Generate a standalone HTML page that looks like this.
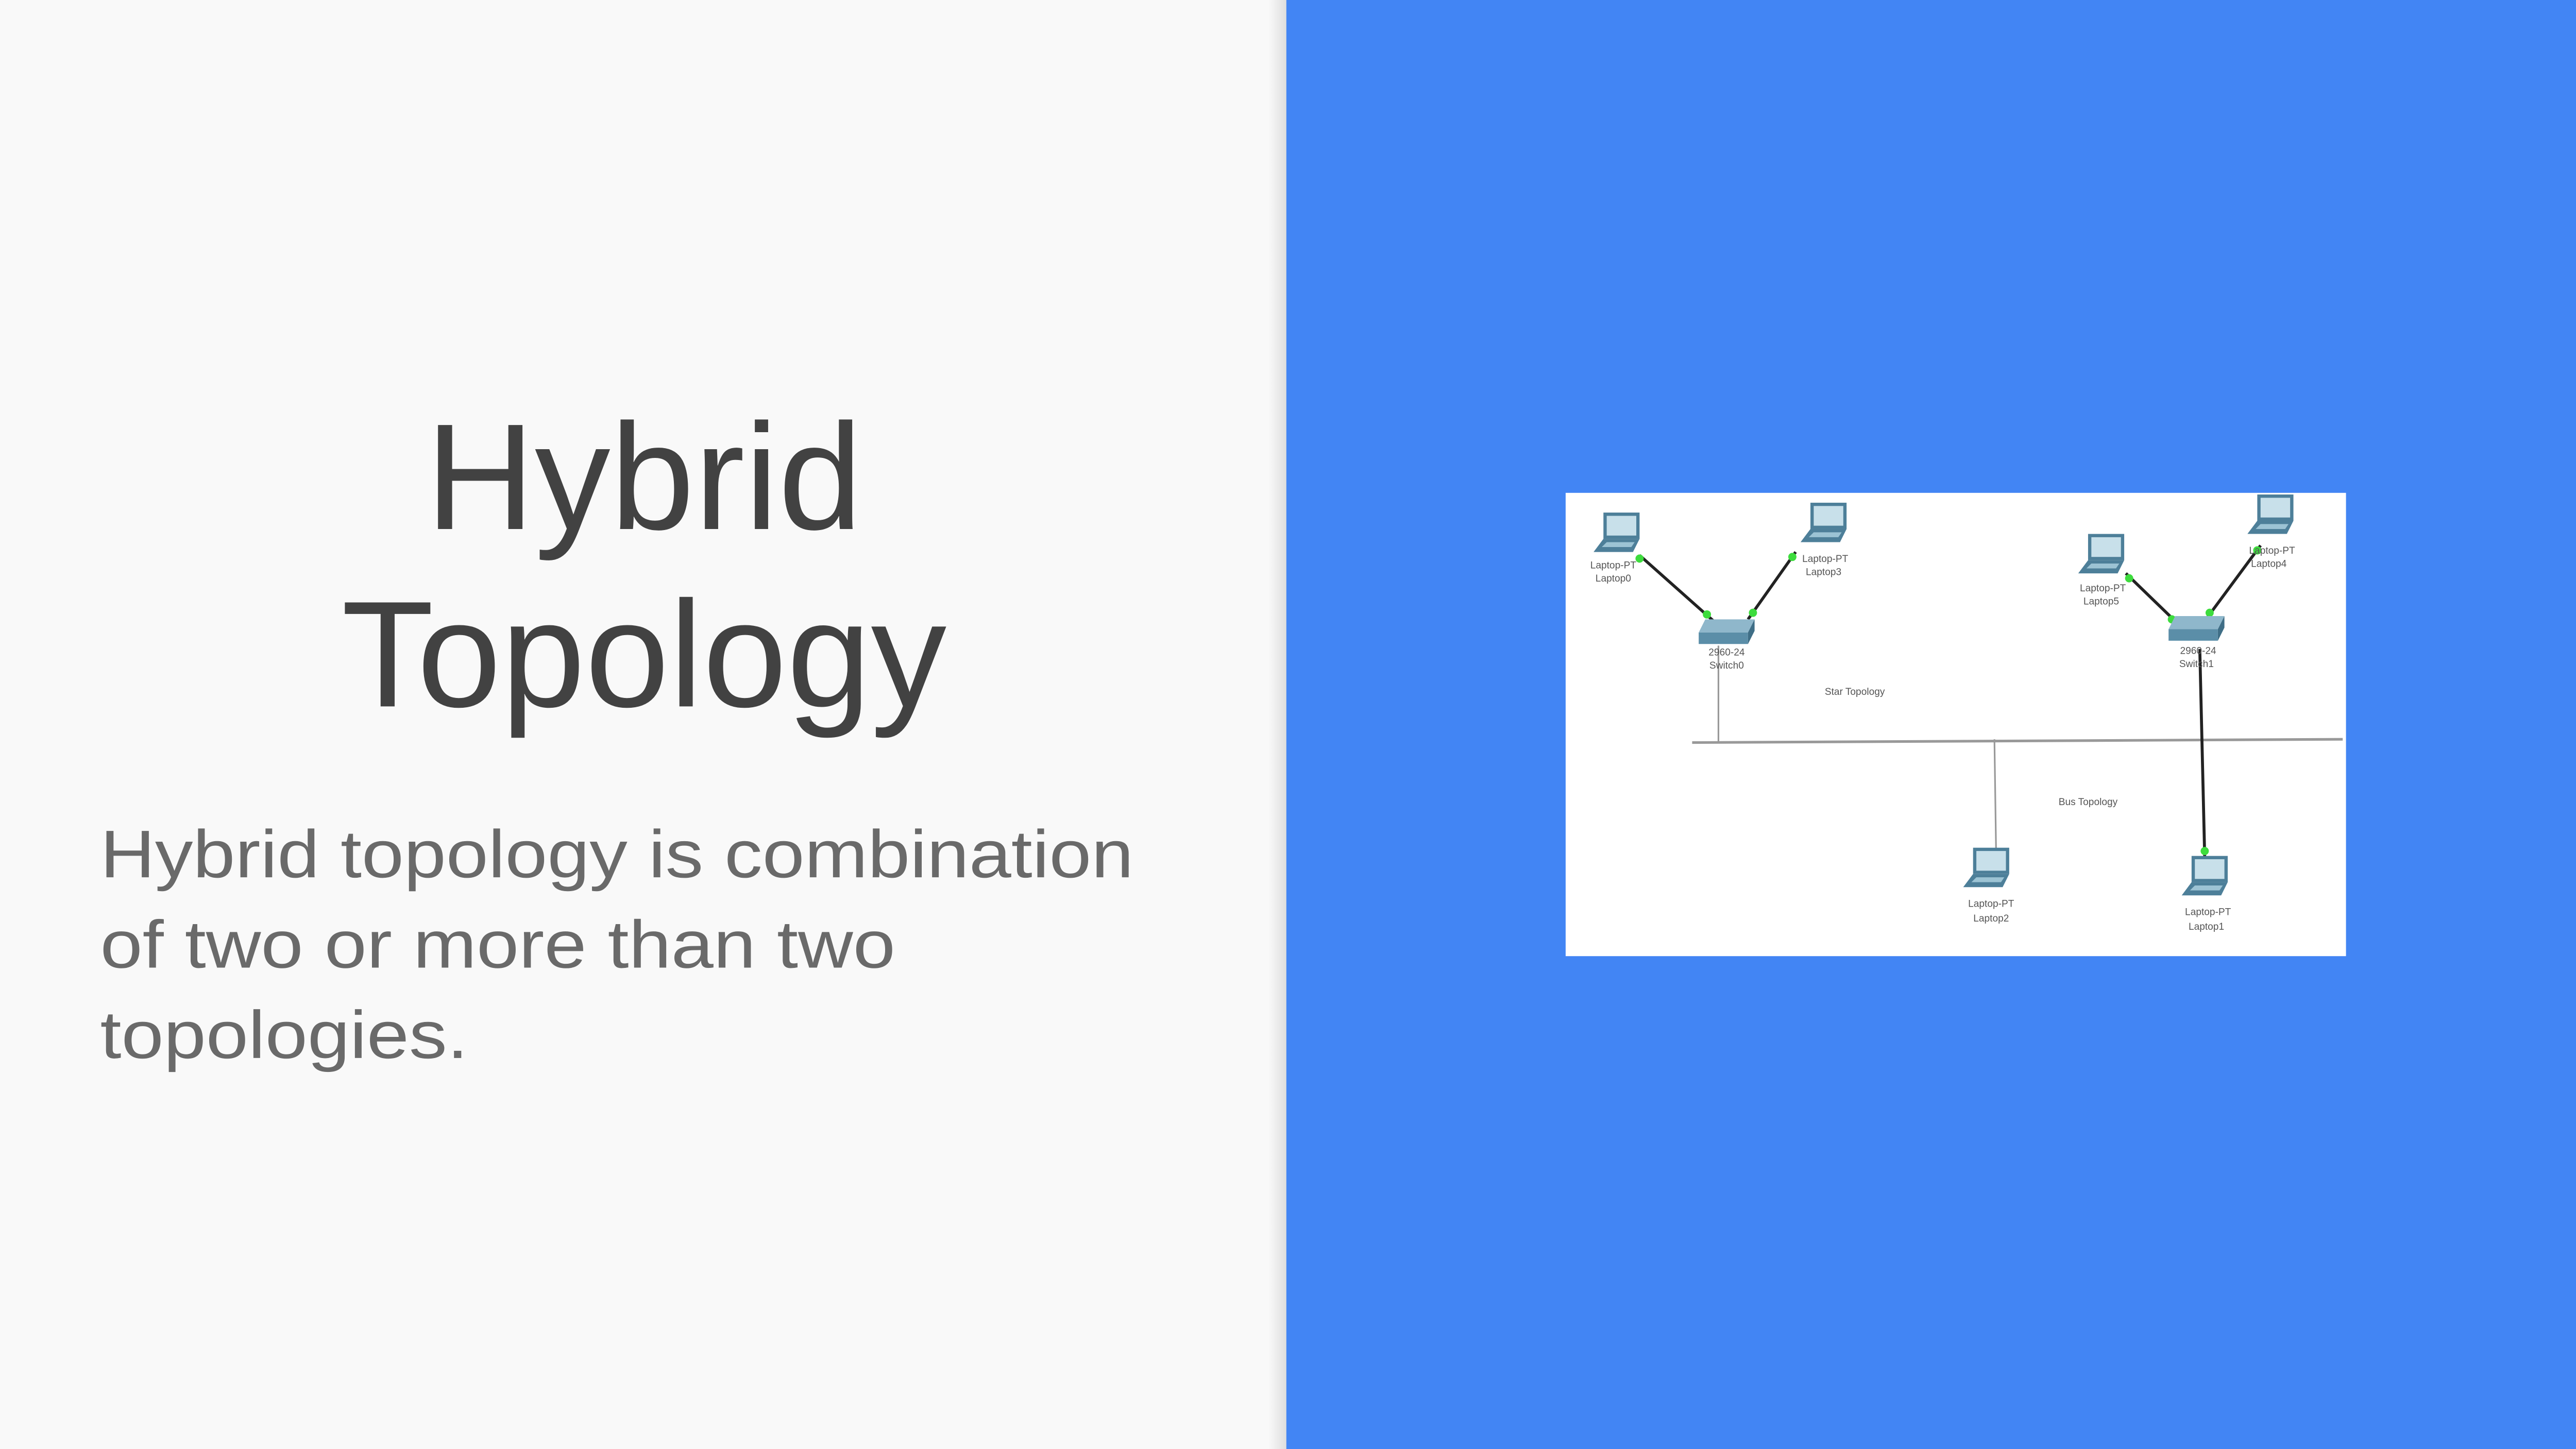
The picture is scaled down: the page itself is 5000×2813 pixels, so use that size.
<!DOCTYPE html>
<html><head><meta charset="utf-8"><style>
html,body{margin:0;padding:0;width:5000px;height:2813px;overflow:hidden;background:#f9f9f9}
svg{display:block}
</style></head><body>
<svg width="5000" height="2813" viewBox="0 0 1568 882" preserveAspectRatio="none" xmlns="http://www.w3.org/2000/svg">
<defs>
<linearGradient id="sh" x1="0" x2="1"><stop offset="0" stop-color="#000" stop-opacity="0"/><stop offset="1" stop-color="#000" stop-opacity="0.12"/></linearGradient>
<g id="lap">
<rect x="6" y="0" width="22" height="16" fill="#4d7f99"/>
<rect x="8" y="2" width="18" height="12" fill="#c8e0ea"/>
<polygon points="6,16 28,16 24,24 0,24" fill="#4d7f99"/>
<polygon points="8,18 25,18 23,21 5,21" fill="#9cc3d4"/>
</g>
<g id="sw">
<polygon points="4,0 34,0 30,8 0,8" fill="#8fb7cb"/>
<polygon points="30,8 34,0 34,7 30,15" fill="#3f6e86"/>
<rect x="0" y="8" width="30" height="7" fill="#5b8ea8"/>
</g>
</defs>
<rect x="0" y="0" width="784" height="882" fill="#f9f9f9"/>
<rect x="772" y="0" width="12" height="882" fill="url(#sh)"/>
<rect x="783" y="0" width="785" height="882" fill="#4285f4"/>
<text x="392" y="322" text-anchor="middle" font-family="Liberation Sans, sans-serif" font-size="92" fill="#424242">Hybrid</text>
<text x="392" y="430" text-anchor="middle" font-family="Liberation Sans, sans-serif" font-size="92" fill="#424242">Topology</text>
<g font-family="Liberation Sans, sans-serif" font-size="41" fill="#6a6a6a">
<text x="61" y="534" textLength="629" lengthAdjust="spacingAndGlyphs">Hybrid topology is combination</text>
<text x="61" y="589" textLength="484" lengthAdjust="spacingAndGlyphs">of two or more than two</text>
<text x="61" y="644" textLength="224" lengthAdjust="spacingAndGlyphs">topologies.</text>
</g>
<rect x="953" y="300" width="475" height="282" fill="#fff"/>
<line x1="1030" y1="452" x2="1426" y2="450" stroke="#999" stroke-width="1.6"/>
<line x1="1046" y1="393" x2="1046" y2="452" stroke="#999" stroke-width="1"/>
<line x1="1214" y1="450" x2="1215" y2="518" stroke="#999" stroke-width="1"/>
<g stroke="#222" stroke-width="1.8">
<line x1="998" y1="338" x2="1043" y2="378"/>
<line x1="1093" y1="336" x2="1064" y2="377"/>
<line x1="1294" y1="349" x2="1326" y2="380"/>
<line x1="1376" y1="332" x2="1342" y2="378"/>
<line x1="1339" y1="395" x2="1342" y2="522"/>
</g>
<g fill="#3ddc3d">
<circle cx="998" cy="340" r="2.5"/><circle cx="1039" cy="374" r="2.5"/>
<circle cx="1091" cy="339" r="2.5"/><circle cx="1067" cy="373" r="2.5"/>
<circle cx="1296" cy="352" r="2.5"/><circle cx="1322" cy="377" r="2.5"/>
<circle cx="1374" cy="335" r="2.5"/><circle cx="1345" cy="373" r="2.5"/>
<circle cx="1342" cy="518" r="2.5"/>
</g>
<use href="#lap" x="970" y="312"/>
<use href="#lap" x="1096" y="306"/>
<use href="#lap" x="1265" y="325"/>
<use href="#lap" x="1368" y="301"/>
<use href="#lap" x="1195" y="516"/>
<use href="#lap" x="1328" y="521"/>
<use href="#sw" x="1034" y="377"/>
<use href="#sw" x="1320" y="375"/>
<g font-family="Liberation Sans, sans-serif" font-size="6" fill="#555" text-anchor="middle">
<text x="982" y="346">Laptop-PT</text><text x="982" y="354">Laptop0</text>
<text x="1111" y="342">Laptop-PT</text><text x="1110" y="350">Laptop3</text>
<text x="1280" y="360">Laptop-PT</text><text x="1279" y="368">Laptop5</text>
<text x="1383" y="337">Laptop-PT</text><text x="1381" y="345">Laptop4</text>
<text x="1051" y="399">2960-24</text><text x="1051" y="407">Switch0</text>
<text x="1338" y="398">2960-24</text><text x="1337" y="406">Switch1</text>
<text x="1212" y="552">Laptop-PT</text><text x="1212" y="561">Laptop2</text>
<text x="1344" y="557">Laptop-PT</text><text x="1343" y="566">Laptop1</text>
<text x="1129" y="423">Star Topology</text>
<text x="1271" y="490">Bus Topology</text>
</g>
</svg>
</body></html>
